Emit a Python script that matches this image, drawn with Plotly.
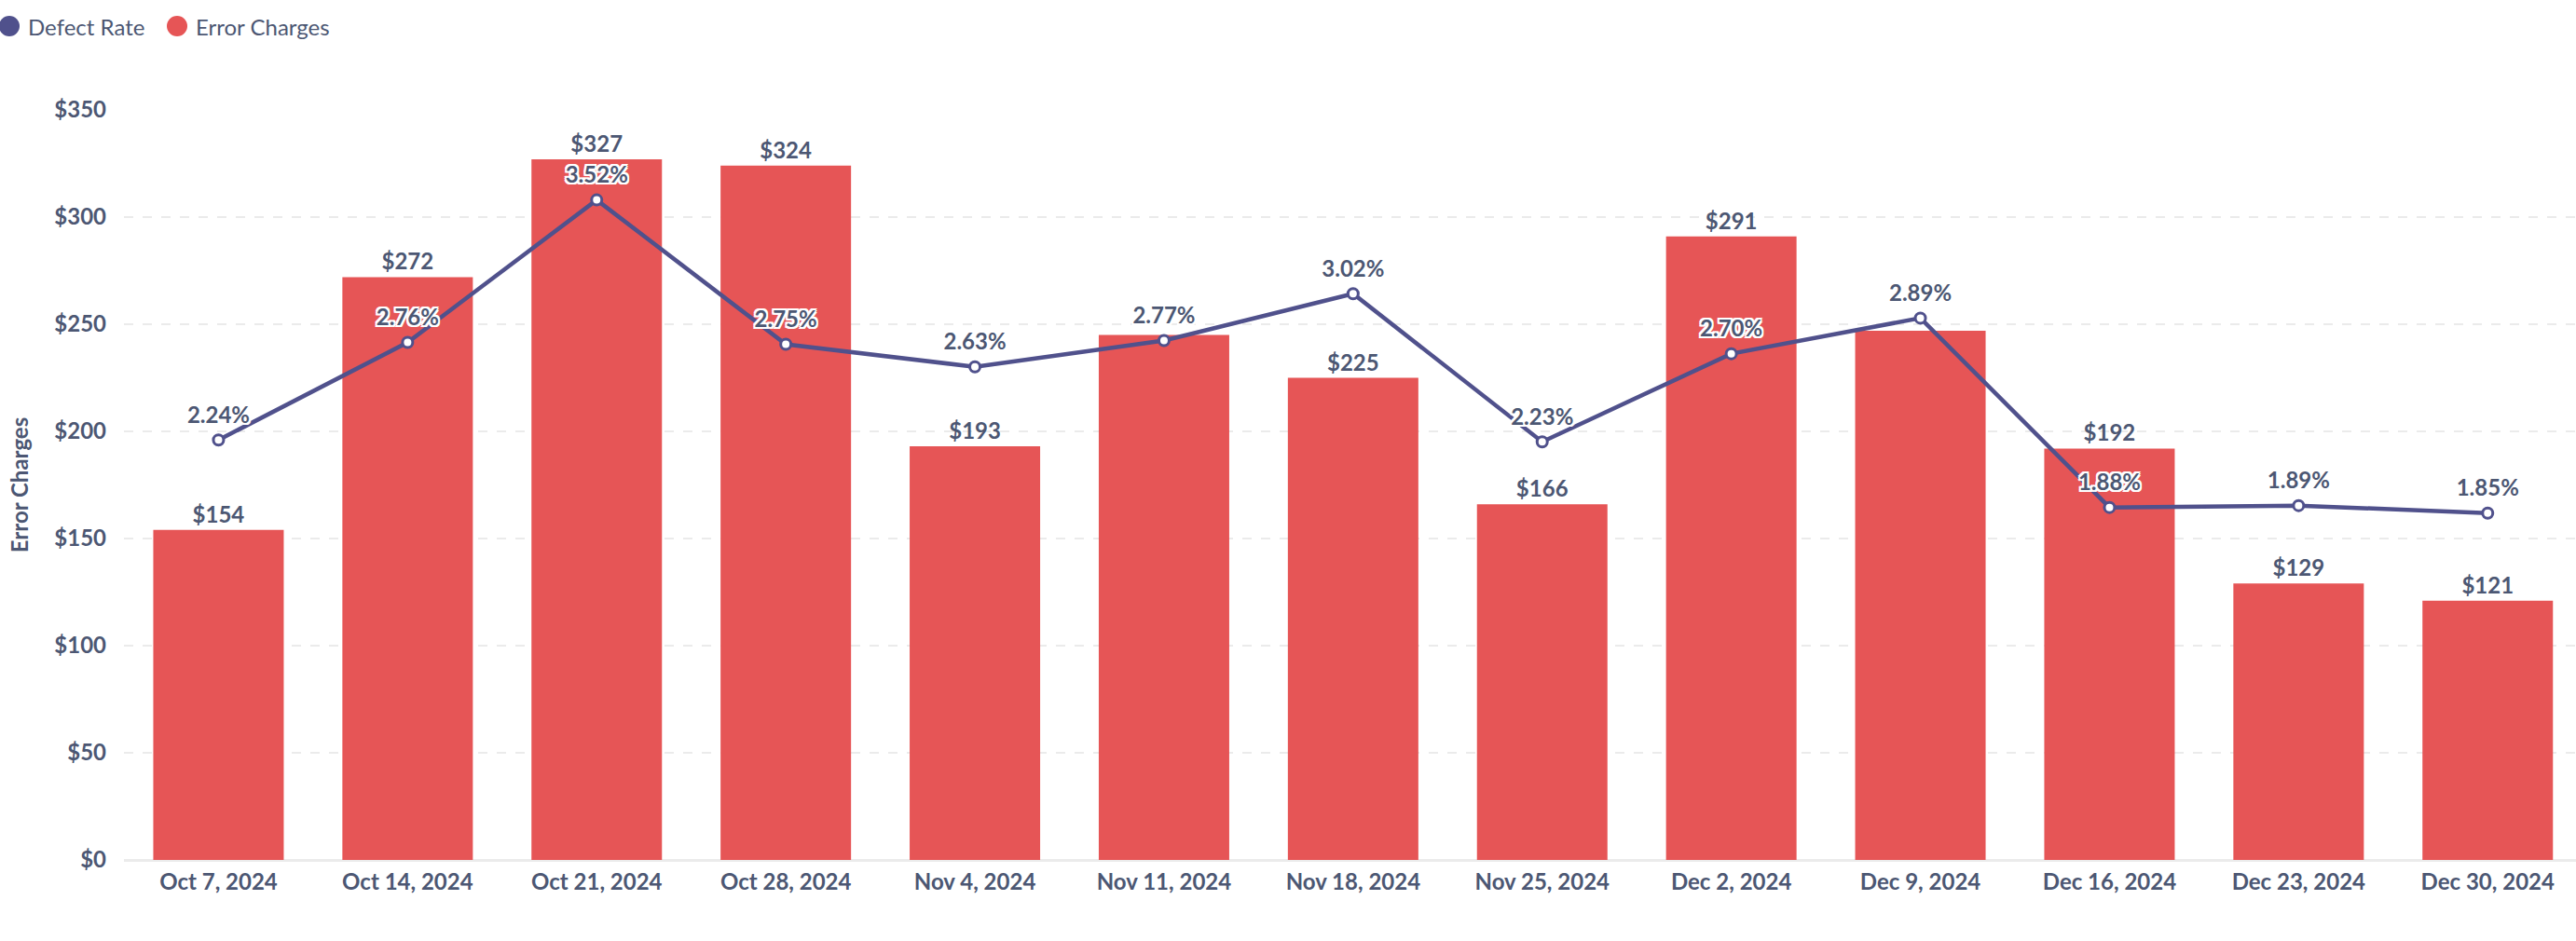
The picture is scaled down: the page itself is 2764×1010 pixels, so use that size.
import plotly.graph_objects as go

weeks = ["Oct 7, 2024", "Oct 14, 2024", "Oct 21, 2024", "Oct 28, 2024", "Nov 4, 2024",
         "Nov 11, 2024", "Nov 18, 2024", "Nov 25, 2024", "Dec 2, 2024", "Dec 9, 2024",
         "Dec 16, 2024", "Dec 23, 2024", "Dec 30, 2024"]
error_charges = [154, 272, 327, 324, 193, 245, 225, 166, 291, 247, 192, 129, 121]
defect_rate = [2.24, 2.76, 3.52, 2.75, 2.63, 2.77, 3.02, 2.23, 2.70, 2.89, 1.88, 1.89, 1.85]
hidden_bar_labels = ["Nov 11, 2024", "Dec 9, 2024"]
y_ticks = [0, 50, 100, 150, 200, 250, 300, 350]
y_tick_labels = [f"${v}" for v in y_ticks]
legend_names = ["Defect Rate", "Error Charges"]

TEXT = "#4C5773"
RED = "#E65556"
PURPLE = "#50518C"
FONT = "Lato"

bar_text = ["" if w in hidden_bar_labels else f"${v}" for w, v in zip(weeks, error_charges)]
line_text = [f"{v:.2f}%" for v in defect_rate]

halo = ("2px 0 0 #fff, -2px 0 0 #fff, 0 2px 0 #fff, 0 -2px 0 #fff, "
        "2px 2px 0 #fff, -2px -2px 0 #fff, 2px -2px 0 #fff, -2px 2px 0 #fff")

# page geometry (body margin removed by post_script)
W, H = 2764, 1010
PL, PT, PB = 133, 118, 923          # plot left/top/bottom in page px
ML, MT = PL, PT
MB = H - PB
PW = W - PL
PH = PB - PT
CAT_W = 202.9                       # px per category
x_max = -0.5 + PW / CAT_W


def px_to_paper_x(px):
    return (px - PL) / PW


def px_to_paper_y(py):
    return (PB - py) / PH


fig = go.Figure()
fig.add_trace(go.Bar(
    x=weeks, y=error_charges, name="Error Charges",
    marker=dict(color=RED, line=dict(width=0)),
    text=bar_text, textposition="outside", cliponaxis=False,
    textfont=dict(family=FONT, size=24, color=TEXT, weight=700),
    showlegend=False, hoverinfo="x+y",
))
fig.add_trace(go.Scatter(
    x=weeks, y=defect_rate, name="Defect Rate", yaxis="y2",
    mode="lines+markers",
    line=dict(color=PURPLE, width=4.5),
    marker=dict(size=11, color="white", line=dict(color=PURPLE, width=3)),
    cliponaxis=False, showlegend=False,
))
# labels for the line, offset a little further above the points
fig.add_trace(go.Scatter(
    x=weeks, y=defect_rate, name="Defect Rate labels", yaxis="y2",
    mode="markers+text",
    marker=dict(size=18, color="rgba(0,0,0,0)"),
    text=line_text, textposition="top center", cliponaxis=False,
    textfont=dict(family=FONT, size=24, color=TEXT, weight=700, shadow=halo),
    showlegend=False, hoverinfo="skip",
))

# legend (circle swatches + text)
legend_colors = [PURPLE, RED]
legend_centers = [10, 190]
legend_text_x = [31, 211]
LEG_Y = 28
shapes, annotations = [], []
for name, col, cx, tx in zip(legend_names, legend_colors, legend_centers, legend_text_x):
    shapes.append(dict(type="circle", xref="paper", yref="paper",
                       xsizemode="pixel", ysizemode="pixel",
                       xanchor=px_to_paper_x(cx), yanchor=px_to_paper_y(LEG_Y),
                       x0=-11, x1=11, y0=-11, y1=11,
                       fillcolor=col, line=dict(width=0), layer="above"))
    annotations.append(dict(text=name, xref="paper", yref="paper",
                            x=px_to_paper_x(tx - 3), y=px_to_paper_y(LEG_Y),
                            xanchor="left", yanchor="middle", showarrow=False,
                            font=dict(family=FONT, size=24, color=TEXT)))

fig.update_layout(
    width=W, height=H,
    margin=dict(l=ML, r=0, t=MT, b=MB, autoexpand=False),
    plot_bgcolor="white", paper_bgcolor="white",
    bargap=0.31, showlegend=False,
    font=dict(family=FONT, color=TEXT, size=24),
    shapes=shapes, annotations=annotations,
    xaxis=dict(
        type="category", range=[-0.5, x_max],
        showgrid=False, showline=False, ticks="", ticklabelstandoff=7,
        tickfont=dict(family=FONT, size=24, color=TEXT, weight=700),
        fixedrange=True,
    ),
    yaxis=dict(
        range=[0, 350], tickmode="array", tickvals=y_ticks, ticktext=y_tick_labels,
        showgrid=True, gridcolor="#EBEBEB", gridwidth=2, griddash="10px,10px",
        zeroline=True, zerolinecolor="#EBEBEB", zerolinewidth=3,
        showline=False, ticks="", ticklabelstandoff=18,
        tickfont=dict(family=FONT, size=24, color=TEXT, weight=700),
        title=dict(text="Error Charges", standoff=20,
                   font=dict(family=FONT, size=24, color=TEXT, weight=700)),
        fixedrange=True,
    ),
    yaxis2=dict(range=[0, 4], overlaying="y", side="right", visible=False, fixedrange=True),
)

fig.write_html(
    "out.html",
    config={"displayModeBar": False},
    post_script="document.body.style.margin='0';document.body.style.overflow='hidden';",
)
